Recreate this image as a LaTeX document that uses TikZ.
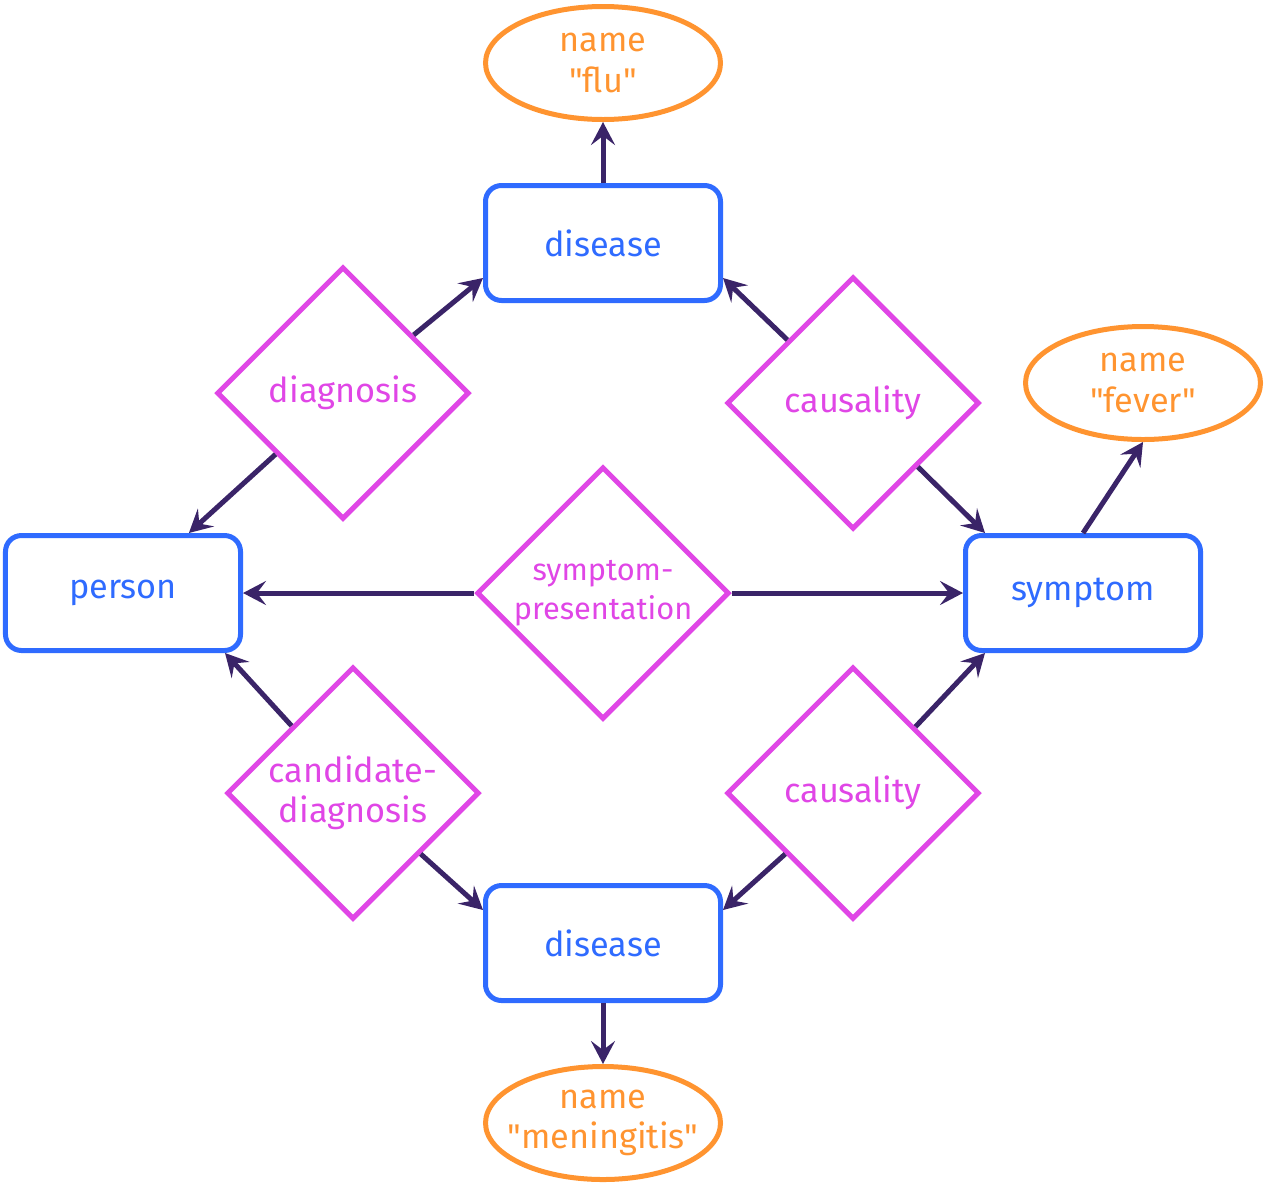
\documentclass[tikz,border=0pt]{standalone}
\usepackage{fontspec}
\setmainfont{Fira Sans}[Ligatures=TeXOff]
\usetikzlibrary{shapes.geometric, arrows.meta, positioning}
\definecolor{entblue}{HTML}{2F6BFF}
\definecolor{relpink}{HTML}{E046E6}
\definecolor{attrorange}{HTML}{FF9430}
\definecolor{linkpurple}{HTML}{3A2468}

\begin{document}
\begin{tikzpicture}[
    on grid,
    font=\fontsize{19.5}{23}\selectfont,
    entity/.style={draw=entblue, text=entblue, line width=0.1cm, rounded corners=0.32cm, minimum width=4.7cm, minimum height=2.3cm, align=center},
    relation/.style={diamond, draw=relpink, text=relpink, line width=0.1cm, minimum width=5.05cm, minimum height=5.05cm, inner sep=-0.8cm, align=center},
    attribute/.style={ellipse, draw=attrorange, text=attrorange, line width=0.1cm, minimum width=4.7cm, minimum height=2.26cm, inner sep=-0.6cm, align=center},
    arrow/.style={-{Stealth[length=0.46cm, width=0.48cm, inset=0.18cm]}, line width=0.1cm, linkpurple}
  ]
    \useasboundingbox (0,0) rectangle (25.32,-23.72);

    \node[relation, font=\fontsize{17.5}{22}\selectfont] (present) at (12.06,-11.86) {symptom-\\presentation};

    \node[entity, above=7cm of present] (disTop) {disease};
    \node[attribute, above=3.6cm of disTop] (flu) {name\\"flu"};
    \node[entity, left=9.6cm of present] (person) {person};
    \node[entity, right=9.6cm of present] (symptom) {symptom};
    \node[entity, below=7cm of present] (disBot) {disease};
    \node[attribute, below=3.6cm of disBot] (mening) {name\\"meningitis"};
    \node[attribute, above right=4.2cm and 1.2cm of symptom] (fever) {name\\"fever"};

    \node[relation, above left=4cm and 5.2cm of present] (diag) {diagnosis};
    \node[relation, above right=3.8cm and 5cm of present] (causeTop) {causality};
    \node[relation, below left=4cm and 5cm of present] (cand) {candidate-\\diagnosis};
    \node[relation, below right=4cm and 5cm of present] (causeBot) {causality};

    \draw[arrow] (disTop) -- (flu);
    \draw[arrow] (disBot) -- (mening);
    \draw[arrow] (symptom.north) -- (fever.south);
    \draw[arrow] (present) -- (person);
    \draw[arrow] (present) -- (symptom);
    \draw[arrow] (diag) -- ([yshift=0.5cm]disTop.south west);
    \draw[arrow] (diag) -- (person);
    \draw[arrow] (causeTop) -- ([yshift=0.5cm]disTop.south east);
    \draw[arrow] (causeTop) -- ([xshift=0.44cm]symptom.north west);
    \draw[arrow] (cand) -- ([xshift=-0.36cm]person.south east);
    \draw[arrow] (cand) -- ([yshift=-0.54cm]disBot.north west);
    \draw[arrow] (causeBot) -- ([xshift=0.44cm]symptom.south west);
    \draw[arrow] (causeBot) -- ([yshift=-0.54cm]disBot.north east);
  \end{tikzpicture}
\end{document}
